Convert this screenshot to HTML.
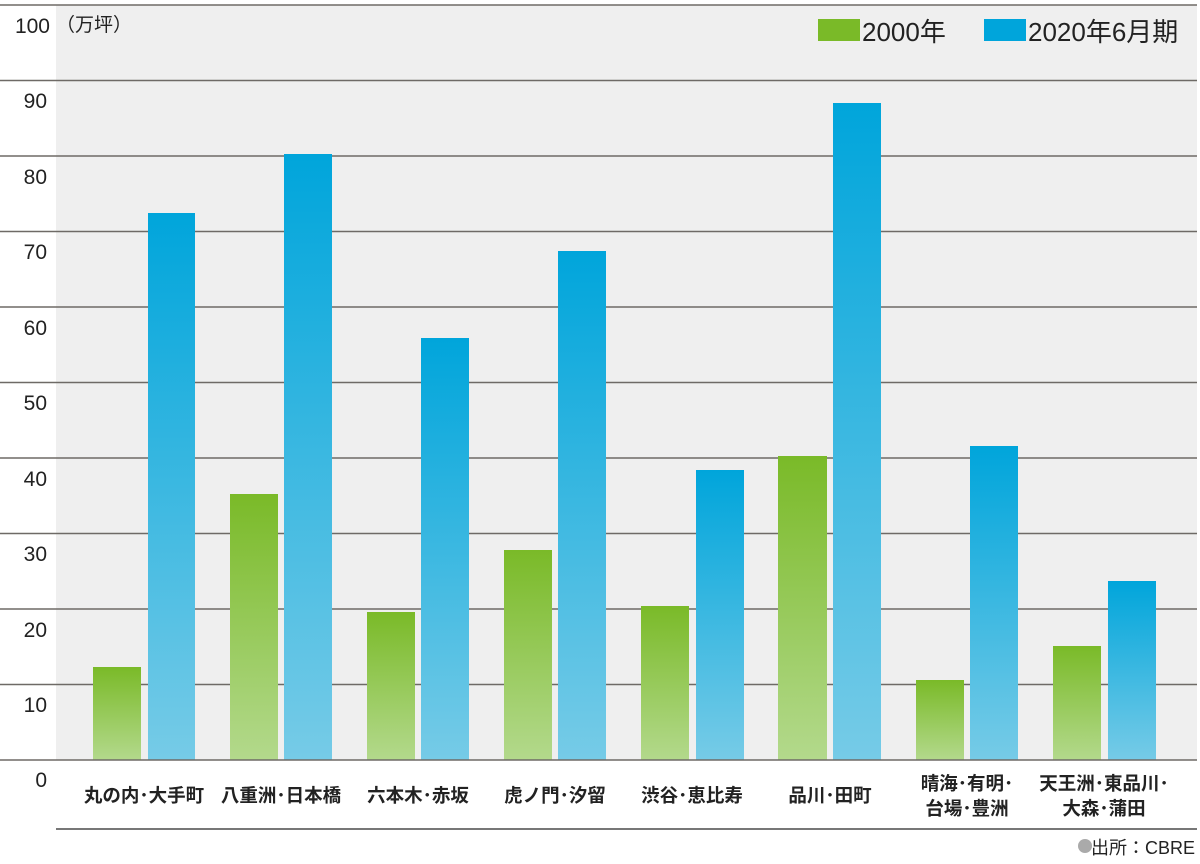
<!DOCTYPE html>
<html><head><meta charset="utf-8"><style>
body{margin:0;background:#fff;}
svg text{font-family:"Liberation Sans","Noto Sans CJK JP",sans-serif;fill:#222;}
</style></head><body>
<svg width="1200" height="859" xmlns="http://www.w3.org/2000/svg">
<defs>
<linearGradient id="g" x1="0" y1="0" x2="0" y2="1"><stop offset="0" stop-color="#7aba28"/><stop offset="1" stop-color="#b3d98c"/></linearGradient>
<linearGradient id="b" x1="0" y1="0" x2="0" y2="1"><stop offset="0" stop-color="#00a5db"/><stop offset="1" stop-color="#76cbe7"/></linearGradient>
</defs>
<rect x="56" y="5" width="1141" height="755" fill="#efefef"/>
<g stroke="#6e6a66" stroke-width="1.5">
<line x1="0" y1="5" x2="1197" y2="5"/><line x1="0" y1="80.5" x2="1197" y2="80.5"/><line x1="0" y1="156" x2="1197" y2="156"/><line x1="0" y1="231.5" x2="1197" y2="231.5"/><line x1="0" y1="307" x2="1197" y2="307"/><line x1="0" y1="382.5" x2="1197" y2="382.5"/><line x1="0" y1="458" x2="1197" y2="458"/><line x1="0" y1="533.5" x2="1197" y2="533.5"/><line x1="0" y1="609" x2="1197" y2="609"/><line x1="0" y1="684.5" x2="1197" y2="684.5"/>
</g>
<g fill="url(#g)">
<rect x="93" y="667" width="48" height="93"/><rect x="230" y="494" width="48" height="266"/><rect x="367" y="612" width="48" height="148"/><rect x="504" y="550" width="48" height="210"/><rect x="641" y="606" width="48" height="154"/><rect x="778" y="456" width="49" height="304"/><rect x="916" y="680" width="48" height="80"/><rect x="1053" y="646" width="48" height="114"/>
</g>
<g fill="url(#b)">
<rect x="148" y="213" width="47" height="547"/><rect x="284" y="154" width="48" height="606"/><rect x="421" y="338" width="48" height="422"/><rect x="558" y="251" width="48" height="509"/><rect x="696" y="470" width="48" height="290"/><rect x="833" y="103" width="48" height="657"/><rect x="970" y="446" width="48" height="314"/><rect x="1108" y="581" width="48" height="179"/>
</g>
<g stroke="#6e6a66" stroke-width="1.5">
<line x1="0" y1="760" x2="1197" y2="760"/>
</g>
<line x1="56" y1="829" x2="1197" y2="829" stroke="#777" stroke-width="2"/>
<g font-size="21" text-anchor="end">
<text x="50" y="33">100</text><text x="47" y="108">90</text><text x="47" y="184">80</text><text x="47" y="259">70</text><text x="47" y="335">60</text><text x="47" y="410">50</text><text x="47" y="486">40</text><text x="47" y="561">30</text><text x="47" y="637">20</text><text x="47" y="712">10</text><text x="47" y="787">0</text>
</g>
<text x="56" y="31" font-size="19">（万坪）</text>
<rect x="818" y="19" width="42" height="22" fill="#7aba28"/>
<text x="862" y="41" font-size="26">2000年</text>
<rect x="984" y="19" width="42" height="22" fill="#00a5db"/>
<text x="1028" y="41" font-size="26">2020年6月期</text>
<g font-size="18.5" font-weight="bold" text-anchor="middle">
<text x="144" y="802">丸の内･大手町</text>
<text x="281" y="802">八重洲･日本橋</text>
<text x="418" y="802">六本木･赤坂</text>
<text x="555" y="802">虎ノ門･汐留</text>
<text x="692" y="802">渋谷･恵比寿</text>
<text x="830" y="802">品川･田町</text>
<text x="967" y="790">晴海･有明･</text>
<text x="967" y="815">台場･豊洲</text>
<text x="1104" y="790">天王洲･東品川･</text>
<text x="1104" y="815">大森･蒲田</text>
</g>
<circle cx="1085" cy="846" r="7" fill="#aaa"/>
<text x="1195" y="854" font-size="18" text-anchor="end">出所：CBRE</text>
</svg>
</body></html>
